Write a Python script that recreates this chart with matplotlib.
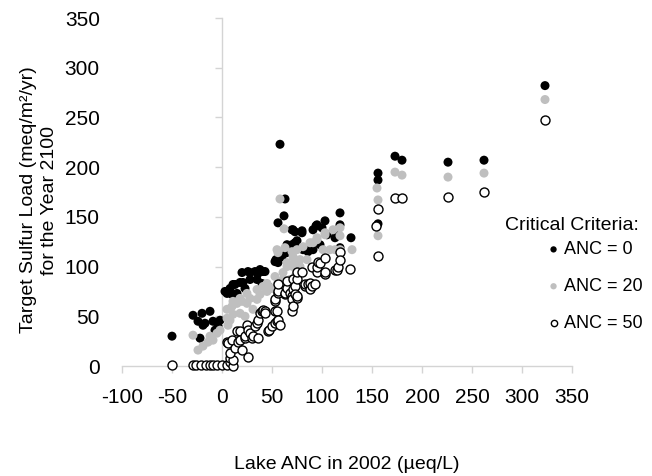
import matplotlib
matplotlib.use("Agg")
import matplotlib.pyplot as plt

plt.rcParams['font.family'] = ['Liberation Sans', 'DejaVu Sans']
plt.rcParams['axes.unicode_minus'] = False

# ---- data ----
anc0_x = [-50, -29, -24, -22, -20, -19, -17, -12, -9, -7, -4, -2, 3, 5, 8, 10, 11, 13, 15, 18,
          20, 21, 23, 26, 28, 28, 33, 35, 36, 38, 40, 41, 43, 46, 53, 54, 56, 56, 58, 60,
          62, 63, 65, 65, 68, 70, 70, 71, 73, 73, 75, 76, 80, 80, 81, 86, 88, 91, 91, 94,
          95, 98, 100, 103, 105, 113, 115, 118, 118, 118, 129, 156, 156, 156, 173, 180, 226, 262, 323]
anc0_y = [30, 51, 45, 28, 53, 41, 43, 55, 45, 36, 40, 46, 75, 73, 78, 72, 82, 82, 73, 84,
          94, 84, 78, 95, 87, 94, 95, 87, 93, 97, 83, 95, 95, 80, 105, 107, 104, 144, 223, 110,
          151, 168, 114, 122, 120, 122, 137, 137, 135, 124, 126, 120, 134, 136, 117, 115, 117, 117, 137, 141,
          142, 122, 139, 146, 132, 129, 131, 154, 142, 119, 129, 194, 187, 143, 211, 207, 205, 207, 282]

anc20_x = [-29, -24, -19, -14, -12, -9, -5, -2, 5, 5, 6, 8, 10, 11, 11, 15, 18, 18, 20, 23,
           25, 25, 28, 31, 35, 35, 38, 41, 45, 45, 50, 53, 55, 55, 56, 58, 61, 61, 62, 63,
           65, 65, 68, 70, 71, 71, 73, 73, 75, 75, 78, 78, 81, 85, 88, 91, 95, 95, 101, 103,
           103, 108, 111, 113, 118, 118, 118, 130, 155, 156, 156, 173, 180, 226, 262, 323]
anc20_y = [31, 16, 20, 24, 30, 26, 33, 36, 48, 57, 41, 46, 60, 52, 65, 63, 53, 68, 65, 50,
           63, 73, 68, 57, 67, 77, 72, 80, 75, 83, 78, 90, 82, 117, 114, 168, 87, 94, 138, 119,
           100, 104, 87, 115, 110, 100, 104, 90, 94, 117, 100, 107, 120, 107, 124, 124, 127, 129, 117, 132,
           134, 117, 137, 117, 139, 131, 117, 117, 179, 167, 131, 195, 192, 190, 194, 268]

anc50_x = [-50, -29, -26, -21, -16, -12, -9, -5, 0, 5, 8, 8, 11, 11, 8, 5, 11, 15, 6, 10,
           13, 16, 18, 18, 20, 23, 23, 25, 26, 26, 28, 30, 31, 33, 35, 36, 36, 38, 40, 41,
           43, 43, 46, 47, 50, 53, 53, 53, 53, 55, 55, 56, 56, 56, 56, 58, 63, 63, 65, 65,
           68, 70, 70, 70, 71, 71, 71, 73, 73, 75, 75, 75, 75, 80, 83, 83, 86, 88, 88, 90,
           90, 93, 95, 95, 96, 98, 103, 103, 103, 113, 115, 116, 118, 118, 128, 154, 156, 156,
           173, 180, 226, 262, 323]
anc50_y = [1, 1, 1, 1, 1, 1, 1, 1, 1, 1, 4, 8, 0, 6, 13, 24, 24, 35, 23, 26,
           18, 24, 35, 26, 16, 28, 30, 41, 9, 36, 33, 28, 30, 40, 43, 28, 46, 53, 55, 56,
           55, 53, 35, 36, 40, 43, 55, 65, 67, 55, 45, 46, 73, 75, 82, 41, 72, 73, 78, 85,
           73, 55, 70, 67, 60, 77, 87, 80, 72, 87, 68, 70, 95, 95, 80, 82, 82, 77, 83, 80,
           100, 82, 95, 100, 105, 104, 109, 93, 95, 97, 97, 100, 115, 107, 98, 141, 158, 111,
           169, 169, 170, 175, 247]

series_labels = ["ANC = 0", "ANC = 20", "ANC = 50"]
legend_title = "Critical Criteria:"
x_ticks = [-100, -50, 0, 50, 100, 150, 200, 250, 300, 350]
y_ticks = [0, 50, 100, 150, 200, 250, 300, 350]

# ---- figure ----
W, H = 652, 476
fig = plt.figure(figsize=(W / 100, H / 100), dpi=100)
ax = fig.add_axes([122 / W, 110 / H, 450 / W, 348 / H])

ms = 42
ax.scatter(anc0_x, anc0_y, s=ms, c='black', edgecolors='none', label=series_labels[0],
           clip_on=False, zorder=3)
ax.scatter(anc20_x, anc20_y, s=ms, c='#bfbfbf', edgecolors='none', label=series_labels[1],
           clip_on=False, zorder=3)
ax.scatter(anc50_x, anc50_y, s=ms, facecolors='white', edgecolors='black', linewidths=1.0,
           label=series_labels[2], clip_on=False, zorder=3)

ax.set_xlim(-100, 350)
ax.set_ylim(0, 350)
ax.set_xticks(x_ticks)
ax.set_yticks(y_ticks)

axis_col = '#d4d4d4'
for s in ['top', 'right']:
    ax.spines[s].set_visible(False)
ax.spines['left'].set_position(('data', 0))
ax.spines['left'].set_color(axis_col)
ax.spines['bottom'].set_color(axis_col)
ax.spines['left'].set_linewidth(1.0)
ax.spines['bottom'].set_linewidth(1.0)

ax.tick_params(axis='x', direction='out', length=5, width=1, color=axis_col,
               labelsize=15, pad=11, labelcolor='black')
ax.tick_params(axis='y', direction='out', length=5, width=1, color=axis_col,
               labelsize=15, pad=83, labelcolor='black')

ax.set_xlabel("Lake ANC in 2002 (µeq/L)", fontsize=14)
ax.xaxis.set_label_coords(0.499, -0.283)
ax.xaxis.label.set_va('center')

ax.set_ylabel("Target Sulfur Load (meq/m²/yr)\nfor the Year 2100", fontsize=14,
              linespacing=1.35, multialignment='center')
ax.yaxis.set_label_coords(-0.184, 0.477)
ax.yaxis.label.set_va('center')

leg = ax.legend(loc='center left',
                bbox_to_anchor=(540 / W, 1 - 286.5 / H), bbox_transform=fig.transFigure,
                frameon=False, fontsize=13, markerscale=0.7,
                handlelength=0.5, handletextpad=0.33, labelspacing=1.1, borderpad=0,
                scatterpoints=1)
fig.text(572 / W, 1 - 225 / H, legend_title, fontsize=14, ha='center', va='center')

fig.savefig("out.png", dpi=100)
